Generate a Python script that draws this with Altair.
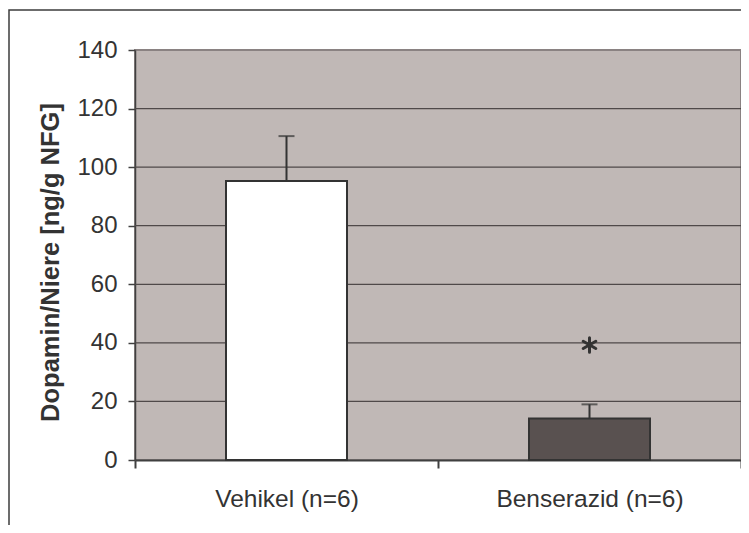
import altair as alt
import pandas as pd

# Data
categories = ["Vehikel (n=6)", "Benserazid (n=6)"]
means = [95.3, 14.2]
errors = [15.3, 4.8]
bar_colors = ["#FFFFFF", "#595150"]
signif_labels = ["", "*"]
signif_y = [None, 39.3]
grid_values = [20, 40, 60, 80, 100, 120]
y_ticks = [0, 20, 40, 60, 80, 100, 120, 140]

df = pd.DataFrame({
    "cat": categories,
    "mean": means,
    "upper": [m + e for m, e in zip(means, errors)],
})
sig_df = pd.DataFrame({"cat": categories, "y": signif_y, "lab": signif_labels}).dropna()
grid_df = pd.DataFrame({"g": grid_values})

FONT = "Liberation Sans"
TXT = "#333333"

x_enc = alt.X(
    "cat:N",
    sort=categories,
    title=None,
    scale=alt.Scale(paddingInner=0, paddingOuter=0),
    axis=alt.Axis(
        labelAngle=0, labelFont=FONT, labelFontSize=24.5, labelColor=TXT,
        labelPadding=19, labelLimit=400, tickBand="extent", tickSize=8,
        tickColor="#404040", tickWidth=2, domainColor="#404040",
        domainWidth=2, grid=False,
    ),
)
y_scale = alt.Scale(domain=[0, 140], nice=False)

grid = alt.Chart(grid_df).mark_rule(color="#4f4949", strokeWidth=1.3).encode(
    y=alt.Y("g:Q", scale=y_scale)
)

bars = alt.Chart(df).mark_bar(size=121, stroke="#333333", strokeWidth=2).encode(
    x=x_enc,
    y=alt.Y(
        "mean:Q", scale=y_scale,
        title="Dopamin/Niere [ng/g NFG]",
        axis=alt.Axis(
            values=y_ticks, grid=False, labelFont=FONT, labelFontSize=24,
            labelColor=TXT, labelPadding=11, tickSize=7, tickColor="#404040",
            tickWidth=1.5, domainColor="#404040", domainWidth=1.5,
            titleFont=FONT, titleFontSize=25.5, titleFontWeight="bold",
            titleColor=TXT, titleX=-77, titleY=212, titleAngle=-90,
            titleBaseline="alphabetic", titleAlign="center", titleLimit=500,
        ),
    ),
    fill=alt.Fill("cat:N", scale=alt.Scale(domain=categories, range=bar_colors), legend=None),
)

err = alt.Chart(df).mark_rule(color="#333333", strokeWidth=2).encode(
    x=alt.X("cat:N", sort=categories),
    y=alt.Y("mean:Q", scale=y_scale),
    y2="upper:Q",
)
cap = alt.Chart(df).mark_tick(color="#333333", size=16, thickness=2).encode(
    x=alt.X("cat:N", sort=categories),
    y=alt.Y("upper:Q", scale=y_scale),
)

star = alt.Chart(sig_df).mark_point(
    shape="M0,-1L0,1M-0.87,-0.5L0.87,0.5M-0.87,0.5L0.87,-0.5",
    size=210, stroke="#333333", strokeWidth=3, strokeCap="round", filled=False, opacity=1,
).encode(
    x=alt.X("cat:N", sort=categories),
    y=alt.Y("y:Q", scale=y_scale),
)

border = alt.Chart(pd.DataFrame({"a": [0]})).mark_rect(
    filled=False, stroke="#3c3c3c", strokeWidth=1.5
).encode(
    x=alt.value(-126), x2=alt.value(640), y=alt.value(-40), y2=alt.value(520)
)

chart = alt.layer(grid, bars, err, cap, star, border).properties(
    width=606,
    height=410,
    autosize=alt.AutoSizeParams(type="none"),
    padding={"left": 127, "top": 42, "right": 0, "bottom": 65},
    background="white",
).configure_view(
    fill="#C0B8B6", stroke="#8a8282", strokeWidth=2
)

chart.save("out.html", embed_options={"renderer": "svg", "actions": False})
